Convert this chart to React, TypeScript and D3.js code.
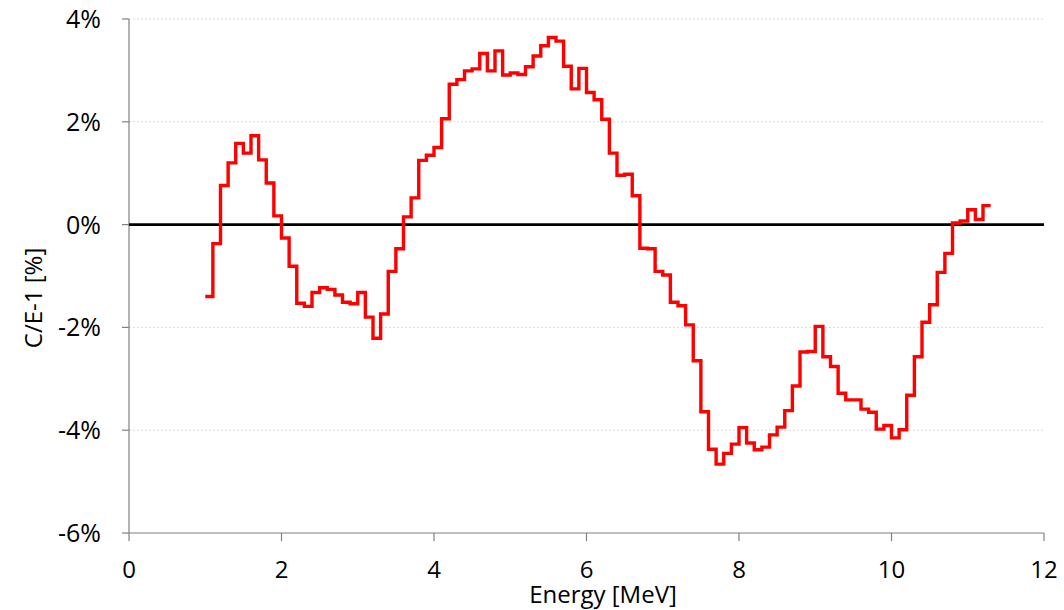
import React from "react";
import * as d3 from "d3";

// Bin edges (MeV)
const energyEdges = [
  1.0, 1.1, 1.2, 1.3, 1.4, 1.5, 1.6, 1.7, 1.8, 1.9,
  2.0, 2.1, 2.2, 2.3, 2.4, 2.5, 2.6, 2.7, 2.8, 2.9,
  3.0, 3.1, 3.2, 3.3, 3.4, 3.5, 3.6, 3.7, 3.8, 3.9,
  4.0, 4.1, 4.2, 4.3, 4.4, 4.5, 4.6, 4.7, 4.8, 4.9,
  5.0, 5.1, 5.2, 5.3, 5.4, 5.5, 5.6, 5.7, 5.8, 5.9,
  6.0, 6.1, 6.2, 6.3, 6.4, 6.5, 6.6, 6.7, 6.8, 6.9,
  7.0, 7.1, 7.2, 7.3, 7.4, 7.5, 7.6, 7.7, 7.8, 7.9,
  8.0, 8.1, 8.2, 8.3, 8.4, 8.5, 8.6, 8.7, 8.8, 8.9,
  9.0, 9.1, 9.2, 9.3, 9.4, 9.5, 9.6, 9.7, 9.8, 9.9,
  10.0, 10.1, 10.2, 10.3, 10.4, 10.5, 10.6, 10.7, 10.8, 10.9,
  11.0, 11.1, 11.2, 11.3,
];

// C/E-1 [%] per bin
const ceValues = [
  -1.40, -0.37, 0.76, 1.20, 1.58, 1.39, 1.73, 1.26, 0.81, 0.17,
  -0.26, -0.81, -1.53, -1.59, -1.32, -1.23, -1.26, -1.37, -1.51, -1.54,
  -1.32, -1.80, -2.21, -1.74, -0.91, -0.47, 0.15, 0.52, 1.25, 1.35,
  1.50, 2.06, 2.73, 2.82, 2.99, 3.03, 3.33, 2.99, 3.38, 2.91,
  2.95, 2.92, 3.07, 3.28, 3.48, 3.64, 3.57, 3.08, 2.64, 3.04,
  2.57, 2.43, 2.05, 1.39, 0.96, 0.98, 0.56, -0.46, -0.47, -0.91,
  -0.98, -1.51, -1.58, -1.95, -2.65, -3.64, -4.37, -4.66, -4.45, -4.27,
  -3.95, -4.25, -4.38, -4.33, -4.09, -3.94, -3.62, -3.14, -2.48, -2.47,
  -1.98, -2.57, -2.76, -3.28, -3.41, -3.41, -3.59, -3.65, -3.98, -3.91,
  -4.15, -3.99, -3.32, -2.57, -1.90, -1.56, -0.93, -0.56, 0.03, 0.07,
  0.29, 0.10, 0.37,
];

const xTicks = [0, 2, 4, 6, 8, 10, 12];
const yTicks = [-6, -4, -2, 0, 2, 4];

const W = 1064;
const H = 610;
const FONT = "'Open Sans', 'Noto Sans', sans-serif";

export default function App() {
  const x = d3.scaleLinear().domain([0, 12]).range([129, 1044]);
  const y = d3.scaleLinear().domain([-6, 4]).range([533, 19]);

  const pts: [number, number][] = energyEdges.map((e, i) => [
    e,
    ceValues[Math.min(i, ceValues.length - 1)],
  ]);
  const line = d3
    .line<[number, number]>()
    .x((d) => x(d[0]))
    .y((d) => y(d[1]))
    .curve(d3.curveStepAfter);

  const [x0, x1] = x.range();
  const [yb, yt] = y.range();

  return (
    <svg
      width={W}
      height={H}
      style={{ position: "absolute", left: 0, top: 0, background: "#fff" }}
    >
      {/* gridlines */}
      {yTicks
        .filter((t) => t !== -6 && t !== 0)
        .map((t) => (
          <line
            key={"g" + t}
            x1={x0}
            x2={x1}
            y1={y(t)}
            y2={y(t)}
            stroke="#d9d9d9"
            strokeWidth={1}
            strokeDasharray="2,2"
          />
        ))}
      {/* axes */}
      <line x1={x0} x2={x0} y1={yt} y2={yb} stroke="#808080" strokeWidth={1.2} />
      <line x1={x0} x2={x1} y1={yb} y2={yb} stroke="#808080" strokeWidth={1.2} />
      {yTicks.map((t) => (
        <line
          key={"yt" + t}
          x1={x0 - 7}
          x2={x0}
          y1={y(t)}
          y2={y(t)}
          stroke="#808080"
          strokeWidth={1.2}
        />
      ))}
      {xTicks.map((t) => (
        <line
          key={"xt" + t}
          x1={x(t)}
          x2={x(t)}
          y1={yb}
          y2={yb + 8}
          stroke="#808080"
          strokeWidth={1.2}
        />
      ))}
      {/* zero line */}
      <line x1={x0} x2={x1} y1={y(0)} y2={y(0)} stroke="#000" strokeWidth={2.6} />
      {/* data */}
      <path
        d={line(pts) || ""}
        fill="none"
        stroke="#ff0000"
        strokeWidth={3.4}
        strokeLinejoin="miter"
      />
      {/* y tick labels */}
      {yTicks.map((t) => (
        <text
          key={"yl" + t}
          x={101}
          y={y(t)}
          dy="0.36em"
          textAnchor="end"
          fontFamily={FONT}
          fontSize={25}
          fill="#000"
        >
          {t + "%"}
        </text>
      ))}
      {/* x tick labels */}
      {xTicks.map((t) => (
        <text
          key={"xl" + t}
          x={x(t)}
          y={578}
          textAnchor="middle"
          fontFamily={FONT}
          fontSize={24}
          fill="#000"
        >
          {t}
        </text>
      ))}
      <text
        x={603}
        y={603}
        textAnchor="middle"
        fontFamily={FONT}
        fontSize={24}
        fill="#000"
      >
        Energy [MeV]
      </text>
      <text
        transform={`translate(42,298) rotate(-90)`}
        textAnchor="middle"
        fontFamily={FONT}
        fontSize={24}
        fill="#000"
      >
        C/E-1 [%]
      </text>
    </svg>
  );
}
